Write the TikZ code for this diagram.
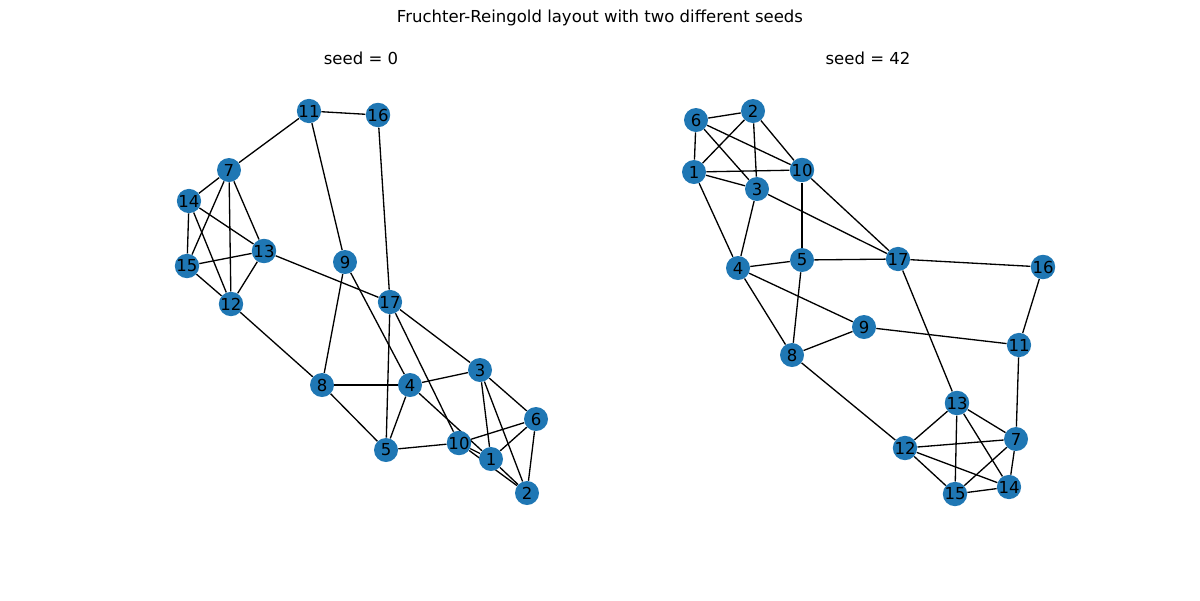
\documentclass[tikz,border=0pt]{standalone}
\usepackage{fontspec}
\setmainfont{DejaVu Sans}
\usepackage{xcolor}
\usepackage{tikz}
\usetikzlibrary{positioning,backgrounds}
\definecolor{nodeblue}{HTML}{1F77B4}
\tikzset{
    every node/.style={font=\fontsize{9.4}{11}\selectfont}
}

\begin{document}
\begin{tikzpicture}[x=0.02cm,y=-0.02cm]
            % Styles for the graph
            \tikzstyle{vertex} = [circle, fill=nodeblue, inner sep=0pt,
                minimum size=0.48cm, text=black]
            \tikzstyle{edge} = [line width=0.75pt, black]
            \useasboundingbox (0,0) rectangle (1200,600);
            
            % Titles
            \node (title) at (600,18) {Fruchter-Reingold layout with two different seeds};
            \node (lefttitle) at (361,58) {seed = 0};
            \node (righttitle) at (868,58) {seed = 42};
            
            % Left layout (seed = 0)
            \node[vertex] (a1) at (491,459) {1};
            \node[vertex] (a2) at (527,493) {2};
            \node[vertex] (a3) at (480,370) {3};
            \node[vertex] (a4) at (410,385) {4};
            \node[vertex] (a5) at (386,450) {5};
            \node[vertex] (a6) at (536,419) {6};
            \node[vertex] (a7) at (229,170) {7};
            \node[vertex] (a8) at (322,385) {8};
            \node[vertex] (a9) at (345,262) {9};
            \node[vertex] (a10) at (459,443) {10};
            \node[vertex] (a11) at (309,111) {11};
            \node[vertex] (a12) at (231,304) {12};
            \node[vertex] (a13) at (264,251) {13};
            \node[vertex] (a14) at (189,201) {14};
            \node[vertex] (a15) at (187,266) {15};
            \node[vertex] (a16) at (378,115) {16};
            \node[vertex] (a17) at (390,302) {17};
            
            % Right layout (seed = 42)
            \node[vertex] (b1) at (694,172) {1};
            \node[vertex] (b2) at (753,111) {2};
            \node[vertex] (b3) at (757,189) {3};
            \node[vertex] (b4) at (738,268) {4};
            \node[vertex] (b5) at (802,260) {5};
            \node[vertex] (b6) at (696,120) {6};
            \node[vertex] (b7) at (1016,439) {7};
            \node[vertex] (b8) at (792,355) {8};
            \node[vertex] (b9) at (864,327) {9};
            \node[vertex] (b10) at (802,170) {10};
            \node[vertex] (b11) at (1019,345) {11};
            \node[vertex] (b12) at (905,448) {12};
            \node[vertex] (b13) at (957,403) {13};
            \node[vertex] (b14) at (1009,487) {14};
            \node[vertex] (b15) at (955,494) {15};
            \node[vertex] (b16) at (1043,267) {16};
            \node[vertex] (b17) at (898,259) {17};
            
            % Edges (same graph in both layouts)
            \begin{scope}[on background layer]
                \foreach \u/\v in {1/2, 1/3, 1/4, 1/6, 1/10, 2/3, 2/6, 2/10,
                    3/4, 3/6, 3/17, 4/5, 4/8, 4/9, 5/8, 5/10, 5/17, 6/10,
                    7/11, 7/12, 7/13, 7/14, 7/15, 8/9, 8/12, 9/11, 10/17,
                    11/16, 12/13, 12/14, 12/15, 13/14, 13/15, 13/17, 14/15, 16/17}
                {
                    \draw[edge] (a\u) -- (a\v);
                    \draw[edge] (b\u) -- (b\v);
                }
            \end{scope}
        \end{tikzpicture}
\end{document}
